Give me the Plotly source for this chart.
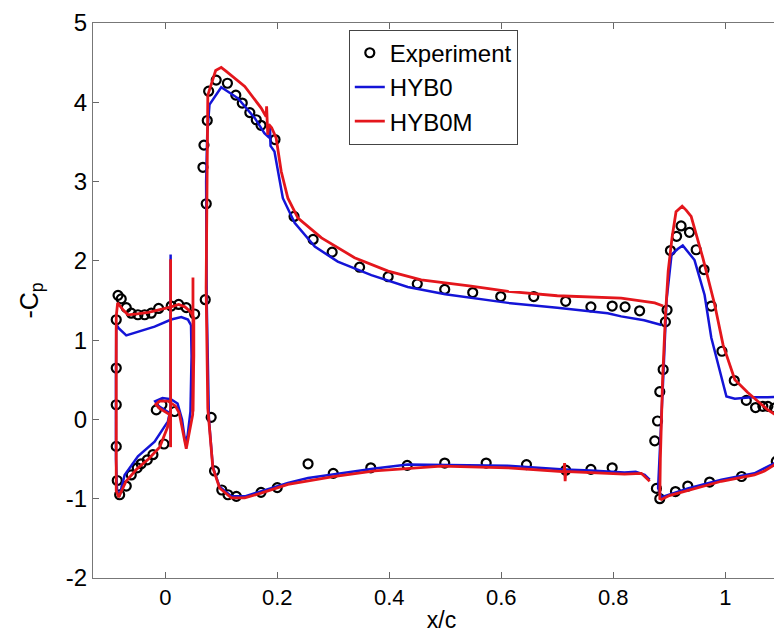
import plotly.graph_objects as go

# ---------------- Experiment ----------------
exp_x = [-0.0843, -0.0786, -0.0875, -0.0696, -0.0607, -0.0488, -0.0368, -0.025, -0.0118, 0.0107, 0.024, 0.0375, 0.0525,
         -0.0875, -0.0875, -0.0875, -0.0857, -0.0814, -0.0696, -0.0607, -0.05, -0.043, -0.032, -0.022, -0.0023, -0.016, -0.006, 0.0168,
         0.0714, 0.0732, 0.0673, 0.0691, 0.075, 0.0775, 0.091, 0.111, 0.126, 0.1375, 0.151, 0.1625, 0.171, 0.196, 0.23, 0.264, 0.298,
         0.347, 0.398, 0.45, 0.499, 0.549, 0.599, 0.658, 0.715, 0.76, 0.798, 0.821, 0.847,
         0.082, 0.088, 0.101, 0.112, 0.127, 0.171, 0.2, 0.255, 0.3, 0.367, 0.432, 0.499, 0.573, 0.645, 0.715, 0.76, 0.798,
         0.896, 0.893, 0.889, 0.883, 0.879, 0.874, 0.877, 0.883,
         0.911, 0.933, 0.972, 1.029, 1.091,
         0.902, 0.913, 0.921, 0.936, 0.948, 0.962, 0.975, 0.994, 1.016, 1.0375, 1.054, 1.067, 1.076, 1.088, 1.097, 1.103, 1.112]
exp_y = [1.565, 1.52, 1.257, 1.41, 1.34, 1.32, 1.32, 1.34, 1.40, 1.43, 1.45, 1.41, 1.33,
         0.648, 0.185, -0.34, -0.77, -0.95, -0.84, -0.70, -0.61, -0.56, -0.51, -0.445, -0.31, 0.12, 0.185, 0.10,
         1.51, 2.72, 3.18, 3.46, 3.77, 4.14, 4.28, 4.24, 4.09, 3.99, 3.87, 3.78, 3.71, 3.53, 2.56, 2.27, 2.11,
         1.92, 1.80, 1.71, 1.64, 1.60, 1.55, 1.55, 1.49, 1.42, 1.43, 1.42, 1.37,
         0.026, -0.65, -0.89, -0.95, -0.97, -0.92, -0.86, -0.56, -0.68, -0.61, -0.58, -0.55, -0.55, -0.57, -0.64, -0.63, -0.61,
         1.38, 1.23, 0.63, 0.35, -0.02, -0.27, -0.87, -1.0,
         -0.91, -0.84, -0.79, -0.72, -0.53,
         2.13, 2.31, 2.44, 2.36, 2.14, 1.89, 1.43, 0.86, 0.49, 0.24, 0.15, 0.165, 0.165, 0.144, 0.10, 0.12, 0.06]

# ---------------- HYB0 (blue) ----------------
hyb0_slat_x = [0.046, 0.0405, 0.0286, 0.0107, -0.019, -0.0488, -0.0696, -0.0832, -0.0875, -0.088, -0.088, -0.086, -0.082,
               -0.0725, -0.0488, -0.019, 0.0048, 0.008, -0.012, -0.018, -0.005, 0.01, 0.022, 0.03, 0.036, 0.04, 0.045, 0.047, 0.046]
hyb0_slat_y = [1.19, 1.26, 1.29, 1.26, 1.17, 1.10, 1.06, 1.15, 1.20, 0.5, -0.5, -0.9, -0.97,
               -0.70, -0.465, -0.28, -0.024, 0.08, 0.17, 0.23, 0.27, 0.255, 0.2, 0.0, -0.3, -0.2, 0.1, 0.8, 1.19]
hyb0_spike_x = [0.0096, 0.0096]
hyb0_spike_y = [-0.3, 2.08]
hyb0_main_x = [0.865, 0.856, 0.84, 0.82, 0.76, 0.713, 0.612, 0.5, 0.433, 0.374, 0.3, 0.255, 0.219, 0.171, 0.142, 0.118,
               0.097, 0.085, 0.078, 0.074, 0.073, 0.075, 0.079, 0.1, 0.13, 0.16, 0.177, 0.186, 0.187, 0.188, 0.195, 0.21,
               0.231, 0.267, 0.308, 0.368, 0.433, 0.5, 0.612, 0.7, 0.79, 0.814, 0.855, 0.886]
hyb0_main_y = [-0.76, -0.70, -0.66, -0.67, -0.645, -0.63, -0.585, -0.57, -0.57, -0.62, -0.69, -0.74, -0.80, -0.91, -0.97, -0.97,
               -0.85, -0.6, 0.0, 1.5, 3.0, 3.6, 3.97, 4.19, 4.05, 3.80, 3.61, 3.55, 3.68, 3.45, 3.38, 2.79,
               2.48, 2.18, 1.99, 1.82, 1.67, 1.58, 1.47, 1.41, 1.34, 1.30, 1.25, 1.19]
hyb0_flap_x = [1.106, 1.106, 1.103, 1.076, 1.046, 1.017, 1.002, 0.99, 0.975, 0.963, 0.945, 0.924, 0.915, 0.904, 0.895,
               0.889, 0.884, 0.88, 0.886, 0.933, 0.993, 1.052, 1.088, 1.1, 1.106, 1.106]
hyb0_flap_y = [-0.02, 0.48, 0.29, 0.28, 0.28, 0.26, 0.29, 0.61, 1.03, 1.57, 2.01, 2.195, 2.15, 2.08, 1.5,
               0.5, -0.3, -0.865, -0.98, -0.87, -0.76, -0.68, -0.55, -0.47, -0.19, -0.02]

# ---------------- HYB0M (red) ----------------
hyb0m_slat_x = [0.051, 0.045, 0.035, 0.024, 0.0107, -0.01, -0.03, -0.05, -0.0666, -0.075, -0.0814, -0.085, -0.0875, -0.088,
                -0.0875, -0.083, -0.078, -0.07, -0.05, -0.03, -0.01, 0.004, 0.008, -0.01, -0.017, -0.01, 0.005, 0.018,
                0.025, 0.032, 0.0375, 0.042, 0.049, 0.051, 0.051]
hyb0m_slat_y = [1.28, 1.36, 1.42, 1.45, 1.42, 1.38, 1.35, 1.33, 1.32, 1.38, 1.446, 1.47, 1.3, 0.0,
                -0.9, -0.98, -0.9, -0.78, -0.62, -0.50, -0.35, -0.1, 0.06, 0.14, 0.19, 0.23, 0.23, 0.17,
                0.08, -0.15, -0.37, -0.2, 0.06, 0.8, 1.28]
hyb0m_spike1_x = [0.0096, 0.0096]
hyb0m_spike1_y = [-0.35, 2.02]
hyb0m_spike2_x = [0.0495, 0.0495]
hyb0m_spike2_y = [0.1, 1.79]
hyb0m_main_x = [0.865, 0.85, 0.82, 0.76, 0.712, 0.713, 0.714, 0.715, 0.612, 0.493, 0.374, 0.3, 0.255, 0.219, 0.171, 0.142,
                0.118, 0.097, 0.085, 0.076, 0.073, 0.074, 0.076, 0.09, 0.1, 0.109, 0.142, 0.171, 0.18, 0.181, 0.183, 0.185,
                0.19, 0.198, 0.207, 0.219, 0.237, 0.279, 0.338, 0.398, 0.457, 0.546, 0.612, 0.7, 0.79, 0.814, 0.874, 0.889]
hyb0m_main_y = [-0.78, -0.68, -0.69, -0.67, -0.655, -0.55, -0.78, -0.66, -0.61, -0.59, -0.65, -0.72, -0.78, -0.82, -0.93, -0.99,
                -0.99, -0.865, -0.61, 0.14, 1.66, 3.0, 4.09, 4.4, 4.44, 4.39, 4.20, 3.93, 3.82, 3.95, 3.59, 3.72,
                3.68, 3.55, 3.13, 2.79, 2.54, 2.29, 2.04, 1.87, 1.76, 1.68, 1.615, 1.56, 1.53, 1.53, 1.47, 1.43]
hyb0m_flap_x = [1.112, 1.11, 1.1, 1.088, 1.07, 1.052, 0.993, 0.933, 0.9, 0.886, 0.883, 0.884, 0.888, 0.893, 0.898, 0.905,
                0.912, 0.923, 0.93, 0.939, 0.96, 0.981, 0.996, 1.017, 1.04, 1.058, 1.076, 1.094, 1.103, 1.107, 1.112]
hyb0m_flap_y = [0.2, -0.2, -0.40, -0.57, -0.65, -0.70, -0.78, -0.89, -0.96, -1.01, -1.0, -0.5, 0.5, 1.3, 1.87, 2.3,
                2.62, 2.69, 2.64, 2.56, 2.035, 1.45, 0.94, 0.50, 0.34, 0.23, 0.12, 0.04, 0.0, -0.1, 0.06]

x_ticks = [0, 0.2, 0.4, 0.6, 0.8, 1]
x_ticklabels = ["0", "0.2", "0.4", "0.6", "0.8", "1"]
y_ticks = [-2, -1, 0, 1, 2, 3, 4, 5]
y_ticklabels = ["-2", "-1", "0", "1", "2", "3", "4", "5"]


def join(*segs):
    xs, ys = [], []
    for sx, sy in segs:
        if xs:
            xs.append(None)
            ys.append(None)
        xs.extend(sx)
        ys.extend(sy)
    return xs, ys


b_x, b_y = join((hyb0_slat_x, hyb0_slat_y), (hyb0_spike_x, hyb0_spike_y),
                (hyb0_main_x, hyb0_main_y), (hyb0_flap_x, hyb0_flap_y))
r_x, r_y = join((hyb0m_slat_x, hyb0m_slat_y), (hyb0m_spike1_x, hyb0m_spike1_y),
                (hyb0m_spike2_x, hyb0m_spike2_y),
                (hyb0m_main_x, hyb0m_main_y), (hyb0m_flap_x, hyb0m_flap_y))

BLUE = "rgb(20,20,215)"
RED = "rgb(228,22,28)"
FONT = "Liberation Sans, Arial, Helvetica, sans-serif"

fig = go.Figure()
fig.add_trace(go.Scatter(x=exp_x, y=exp_y, mode="markers", name="Experiment",
                         marker=dict(symbol="circle-open", size=9, color="black",
                                     line=dict(width=2.2, color="black"))))
fig.add_trace(go.Scatter(x=b_x, y=b_y, mode="lines", name="HYB0",
                         line=dict(color=BLUE, width=2.5), connectgaps=False))
fig.add_trace(go.Scatter(x=r_x, y=r_y, mode="lines", name="HYB0M",
                         line=dict(color=RED, width=2.8), connectgaps=False))

fig.update_layout(
    width=782, height=635,
    margin=dict(l=85, r=0, t=15, b=65, autoexpand=False),
    paper_bgcolor="white", plot_bgcolor="white",
    font=dict(family=FONT, size=22, color="black"),
    showlegend=True,
    legend=dict(x=0.367, y=0.988, xanchor="left", yanchor="top",
                bordercolor="#444", borderwidth=1, bgcolor="white",
                font=dict(family=FONT, size=24, color="black"),
                tracegroupgap=0, itemsizing="trace"),
    xaxis=dict(range=[-0.129, 1.1155], tickvals=x_ticks, ticktext=x_ticklabels,
               ticks="inside", ticklen=6, automargin=False,
               tickcolor="#666", showline=True, linecolor="#777", linewidth=1,
               mirror="ticks", showgrid=False, zeroline=False,
               tickfont=dict(family=FONT, size=22),
               title=dict(text="x/c", standoff=2, font=dict(family=FONT, size=23))),
    yaxis=dict(range=[-2, 5], tickvals=y_ticks, ticktext=y_ticklabels,
               ticks="inside", ticklen=6, automargin=False,
               tickcolor="#666", showline=True, linecolor="#777", linewidth=1,
               mirror=False, showgrid=False, zeroline=False,
               tickfont=dict(family=FONT, size=24),
               title=dict(text="-C<sub>p</sub>", standoff=20, font=dict(family=FONT, size=25))),
)

fig.write_html("out.html")
